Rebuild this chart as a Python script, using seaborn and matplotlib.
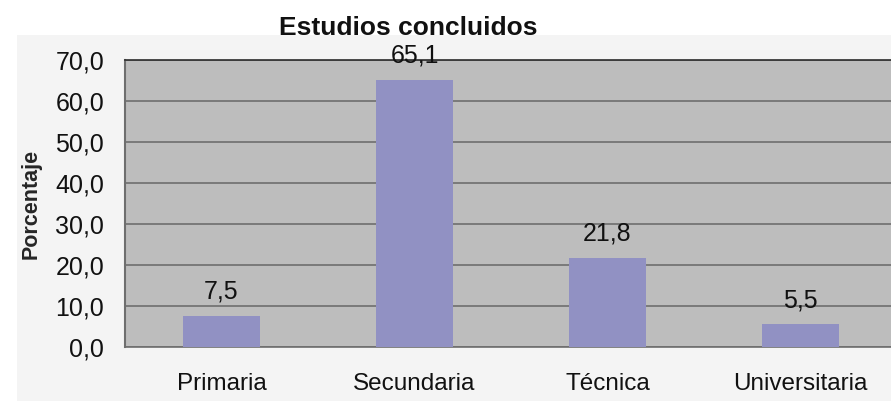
import matplotlib
matplotlib.use("Agg")
import matplotlib.pyplot as plt
import seaborn as sns
import pandas as pd
from matplotlib.patches import Rectangle
from matplotlib.ticker import FuncFormatter

categories = ["Primaria", "Secundaria", "Técnica", "Universitaria"]
values = [7.5, 65.1, 21.8, 5.5]
labels = ["7,5", "65,1", "21,8", "5,5"]

sns.set_theme(style="white")
plt.rcParams['font.family'] = ['Liberation Sans', 'DejaVu Sans']

df = pd.DataFrame({"cat": categories, "val": values})

fig = plt.figure(figsize=(8.91, 4.03), dpi=100)
fig.patch.set_facecolor("white")
fig.patches.append(Rectangle((17/891, 2/403), 1, (403-35-2)/403, transform=fig.transFigure,
                             facecolor="#f4f4f4", edgecolor="none", zorder=-10))

ax = fig.add_axes([125/891, 56/403, 772/891, 287/403])
ax.set_facecolor("#bdbdbd")
sns.barplot(data=df, x="cat", y="val", color="#9191c3", saturation=1, width=0.4, ax=ax, zorder=3)
for p in ax.patches:
    p.set_edgecolor("none")

ax.set_ylim(0, 70)
ax.set_xlim(-0.5, 3.5)
ax.set_yticks(range(0, 71, 10))
ax.yaxis.set_major_formatter(FuncFormatter(lambda v, _: f"{v:.1f}".replace(".", ",")))
ax.grid(axis="y", color="#6e6e6e", linewidth=1.2, zorder=1)
ax.set_axisbelow(True)
ax.spines["right"].set_visible(False)
ax.spines["bottom"].set_color("#6e6e6e")
ax.spines["bottom"].set_linewidth(1.2)
ax.spines["top"].set_color("#333333")
ax.spines["left"].set_color("#6e6e6e")
ax.spines["left"].set_linewidth(1.5)

ax.tick_params(axis="y", labelsize=18, length=0, pad=15, colors="#111111")
ax.tick_params(axis="x", labelsize=17.5, length=0, pad=19, colors="#111111")
ax.set_xlabel("")
ax.set_ylabel("Porcentaje", fontsize=15.5, fontweight="bold", labelpad=10)

for i, (v, t) in enumerate(zip(values, labels)):
    ax.text(i, v + 3.0, t, ha="center", va="bottom", fontsize=18, color="#111111")

fig.text(408/891, 1 - 28/403, "Estudios concluidos", ha="center", va="center",
         fontsize=19, fontweight="bold", color="#111111")

fig.savefig("out.png", dpi=100)
